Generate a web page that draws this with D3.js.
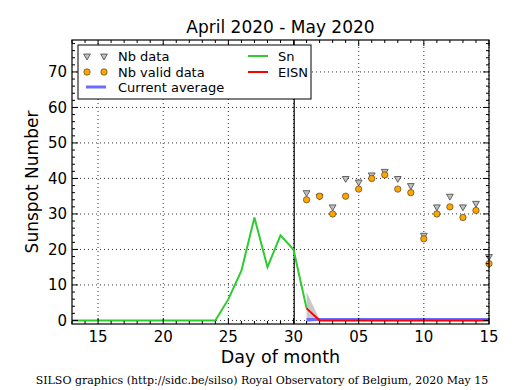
<!DOCTYPE html>
<html><head><meta charset="utf-8">
<script src="https://cdn.jsdelivr.net/npm/d3@7"></script>
<style>body{margin:0;background:#fff}svg{display:block}text{font-family:"DejaVu Sans",sans-serif}</style>
</head><body>
<script>
// Day index: April d -> d, May d -> 30 + d
const snDays = [13,14,15,16,17,18,19,20,21,22,23,24,25,26,27,28,29,30,31];
const snValues = [0,0,0,0,0,0,0,0,0,0,0,0,6,14,29,15,24,20,3.4];
const eisnDays = [31,32,33,34,35,36,37,38,39,40,41,42,43,44,45];
const eisnValues = [3.4,0,0,0,0,0,0,0,0,0,0,0,0,0,0];
const bandDays = [31,32];
const bandUpper = [8,0.3];
const bandLower = [-0.6,0];
const avgDays = [31,45];
const avgValues = [0.3,0.3];
const obsDays = [31,32,33,34,35,36,37,38,39,40,41,42,43,44,45];
const nbData = [36,35,32,40,39,41,42,40,38,24,32,35,32,33,18];
const nbValid = [34,35,30,35,37,40,41,37,36,23,30,32,29,31,16];
const xTickValues = [15,20,25,30,35,40,45];
const xTickLabels = ["15","20","25","30","05","10","15"];
const yTickValues = [0,10,20,30,40,50,60,70];

const W=515,H=390;
const m={l:72,r:26,t:40,b:66};
const svg=d3.select("body").append("svg").attr("width",W).attr("height",H);
const x=d3.scaleLinear().domain([13,45]).range([m.l,W-m.r]);
const y=d3.scaleLinear().domain([-1,79]).range([H-m.b,m.t]);
const X0=m.l,X1=W-m.r,Y0=H-m.b,Y1=m.t;

const g=svg.append("g");
// grid
g.selectAll(".gx").data(xTickValues).join("line").attr("x1",d=>x(d)).attr("x2",d=>x(d)).attr("y1",Y0).attr("y2",Y1)
 .attr("stroke","#000").attr("stroke-width",0.8).attr("stroke-dasharray","1,3");
g.selectAll(".gy").data(yTickValues).join("line").attr("y1",d=>y(d)).attr("y2",d=>y(d)).attr("x1",X0).attr("x2",X1)
 .attr("stroke","#000").attr("stroke-width",0.8).attr("stroke-dasharray","1,3");

const clip=svg.append("clipPath").attr("id","c").append("rect").attr("x",X0).attr("y",Y1).attr("width",X1-X0).attr("height",Y0-Y1);
const p=svg.append("g").attr("clip-path","url(#c)");

// vertical line
p.append("line").attr("x1",x(30.05)).attr("x2",x(30.05)).attr("y1",Y0).attr("y2",Y1).attr("stroke","#000").attr("stroke-width",1.2);

// band
const area=d3.area().x((d,i)=>x(bandDays[i])).y0((d,i)=>y(bandLower[i])).y1((d,i)=>y(bandUpper[i]));
p.append("path").attr("d",area(bandDays)).attr("fill","#c8c8c8");

// avg line
const line=(xs,ys)=>d3.line().x((d,i)=>x(xs[i])).y((d,i)=>y(ys[i]))(xs);
p.append("path").attr("d",line(avgDays,avgValues)).attr("fill","none").attr("stroke","#6b6bff").attr("stroke-width",3);
// Sn
p.append("path").attr("d",line(snDays,snValues)).attr("fill","none").attr("stroke","#2ecc2e").attr("stroke-width",2);
// EISN
p.append("path").attr("d",line(eisnDays,eisnValues)).attr("fill","none").attr("stroke","#ff0000").attr("stroke-width",2);

// triangles
const tri=d3.symbol().type(d3.symbolTriangle).size(20);
svg.append("g").selectAll("path").data(obsDays).join("path")
 .attr("d",tri).attr("transform",(d,i)=>`translate(${x(d)},${y(nbData[i])}) rotate(180)`)
 .attr("fill","#c0c0c0").attr("stroke","#444").attr("stroke-width",0.8);
// circles
svg.append("g").selectAll("circle").data(obsDays).join("circle")
 .attr("cx",d=>x(d)).attr("cy",(d,i)=>y(nbValid[i])).attr("r",3.2)
 .attr("fill","#ffa500").attr("stroke","#333").attr("stroke-width",0.6);

// frame
svg.append("rect").attr("x",X0).attr("y",Y1).attr("width",X1-X0).attr("height",Y0-Y1).attr("fill","none").attr("stroke","#000").attr("stroke-width",1.2);

// ticks (inside)
const tk=svg.append("g").attr("stroke","#000").attr("stroke-width",1);
const xMinor=d3.range(13,46);
xMinor.forEach(d=>{const L=xTickValues.includes(d)?6:3;
  tk.append("line").attr("x1",x(d)).attr("x2",x(d)).attr("y1",Y0).attr("y2",Y0-L);
  tk.append("line").attr("x1",x(d)).attr("x2",x(d)).attr("y1",Y1).attr("y2",Y1+L);});
const yMinor=d3.range(0,79,2);
yMinor.forEach(d=>{const L=yTickValues.includes(d)?6:3;
  tk.append("line").attr("y1",y(d)).attr("y2",y(d)).attr("x1",X0).attr("x2",X0+L);
  tk.append("line").attr("y1",y(d)).attr("y2",y(d)).attr("x1",X1).attr("x2",X1-L);});

// tick labels
svg.append("g").selectAll("text").data(xTickValues).join("text").attr("x",d=>x(d)).attr("y",Y0+17.5)
 .attr("text-anchor","middle").attr("font-size",15).text((d,i)=>xTickLabels[i]);
svg.append("g").selectAll("text").data(yTickValues).join("text").attr("x",X0-5).attr("y",d=>y(d)+5.5)
 .attr("text-anchor","end").attr("font-size",15).text(d=>d);

// labels
svg.append("text").attr("x",(X0+X1)/2).attr("y",363).attr("text-anchor","middle").attr("font-size",17.5).text("Day of month");
svg.append("text").attr("transform",`translate(38,${(Y0+Y1)/2}) rotate(-90)`).attr("text-anchor","middle").attr("font-size",17).text("Sunspot Number");
svg.append("text").attr("x",(X0+X1)/2).attr("y",32.5).attr("text-anchor","middle").attr("font-size",17).text("April 2020 - May 2020");
svg.append("text").attr("x",262).attr("y",384).attr("text-anchor","middle").attr("font-size",11)
 .style("font-family","'DejaVu Serif',serif").text("SILSO graphics (http://sidc.be/silso) Royal Observatory of Belgium, 2020 May 15");

// legend
const lg=svg.append("g");
lg.append("rect").attr("x",78).attr("y",45).attr("width",233).attr("height",54).attr("fill","#fff").attr("stroke","#000").attr("stroke-width",1);
const rows=[56,72,87];
[87,104].forEach(cx=>{
  lg.append("path").attr("d",tri).attr("transform",`translate(${cx},${rows[0]}) rotate(180)`).attr("fill","#c0c0c0").attr("stroke","#444").attr("stroke-width",0.8);
  lg.append("circle").attr("cx",cx).attr("cy",rows[1]).attr("r",3.2).attr("fill","#ffa500").attr("stroke","#333").attr("stroke-width",0.6);
});
lg.append("line").attr("x1",86).attr("x2",106).attr("y1",rows[2]).attr("y2",rows[2]).attr("stroke","#6b6bff").attr("stroke-width",3);
lg.append("line").attr("x1",248).attr("x2",268).attr("y1",rows[0]).attr("y2",rows[0]).attr("stroke","#2ecc2e").attr("stroke-width",2);
lg.append("line").attr("x1",248).attr("x2",268).attr("y1",rows[1]).attr("y2",rows[1]).attr("stroke","#ff0000").attr("stroke-width",2);
const lt=(tx,ty,s)=>lg.append("text").attr("x",tx).attr("y",ty+4.5).attr("font-size",13).text(s);
lt(118,rows[0],"Nb data");lt(118,rows[1],"Nb valid data");lt(118,rows[2],"Current average");
lt(278,rows[0],"Sn");lt(278,rows[1],"EISN");
</script>
</body></html>
